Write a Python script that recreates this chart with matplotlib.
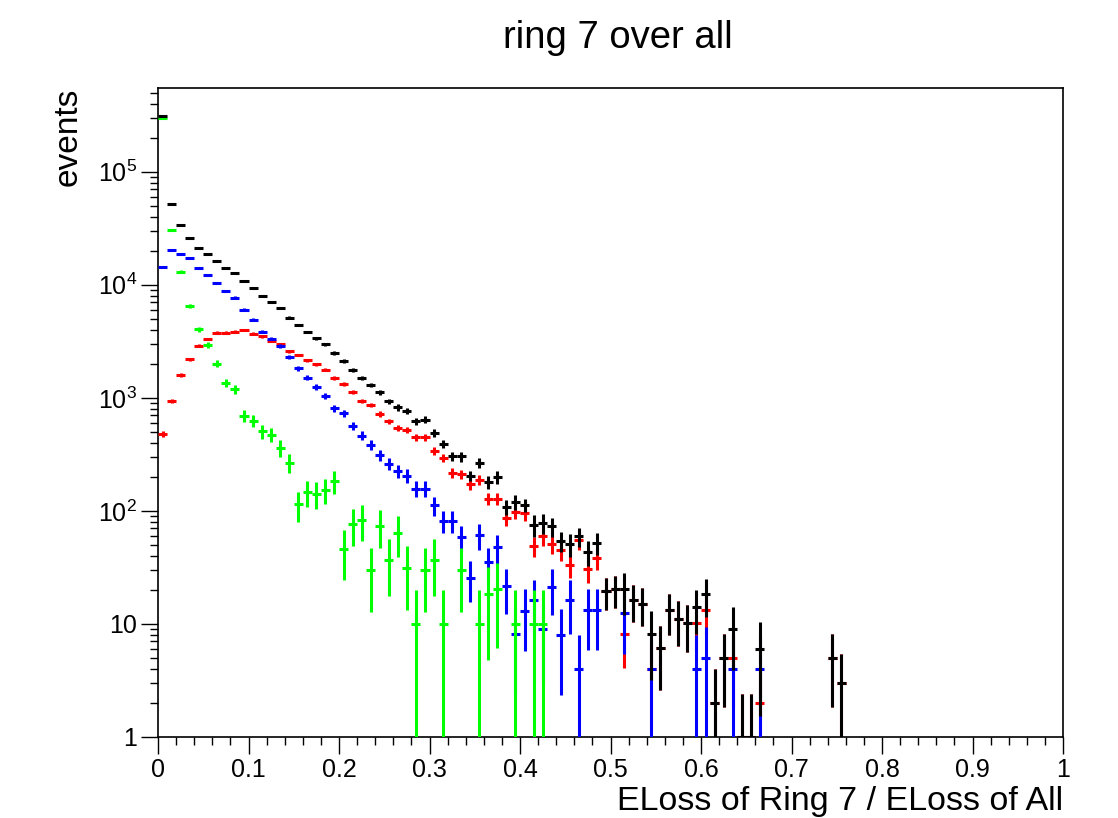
import numpy as np
import matplotlib
matplotlib.use("Agg")
import matplotlib.pyplot as plt
from matplotlib.ticker import FixedLocator, FuncFormatter, LogLocator, NullFormatter, MultipleLocator

plt.rcParams['font.family'] = ['Liberation Sans', 'DejaVu Sans']
plt.rcParams['mathtext.fontset'] = 'custom'
plt.rcParams['mathtext.rm'] = 'Liberation Sans'

# ---- data (bin width 0.01, bins starting at 0) ----
bin_width = 0.01
black = [3.13e5, 5.2e4, 3.35e4, 2.6e4, 2.12e4, 1.86e4, 1.63e4, 1.41e4, 1.28e4, 1.08e4,
         9300, 7900, 7050, 6240, 5130, 4400, 3830, 3370, 2980, 2500,
         2110, 1780, 1500, 1300, 1120, 930, 823, 770, 620, 641,
         489, 391, 304, 304, 205, 264, 179, 198, 108, 119,
         113, 75.4, 77.8, 72.8, 54, 50.5, 59.6, 43.2, 52, 19.4,
         20.2, 20.2, 16.2, 15.1, 8.1, 6.1, 13.2, 11.1, 10.1, 14.1,
         18.3, 2, 5, 9, 1, 1, 6, 0, 0, 0,
         0, 0, 0, 0, 5, 3]
red = [482, 937, 1600, 2200, 2900, 3300, 3780, 3780, 3860, 3990,
       3700, 3490, 3190, 2980, 2570, 2390, 2160, 1990, 1770, 1500,
       1320, 1130, 942, 863, 719, 619, 537, 520, 447, 447,
       341, 294, 217, 210, 173, 188, 128, 128, 86, 98,
       96, 48.7, 59.5, 51.3, 45.4, 33.5, 55.6, 30.8, 38.6, 19.4,
       20.2, 8.1, 16.2, 15.1, 4, 6.1, 13.2, 11.1, 10.1, 10.1,
       13.2, 2, 5, 5, 1, 1, 2, 0, 0, 0,
       0, 0, 0, 0, 5, 3]
blue = [1.44e4, 2.03e4, 1.87e4, 1.73e4, 1.42e4, 1.23e4, 1.03e4, 8800, 7700, 6030,
        4920, 3860, 3340, 2880, 2290, 1830, 1510, 1250, 1040, 813,
        728, 567, 463, 386, 313, 260, 224, 205, 157, 157,
        112, 82, 82, 58.6, 25.7, 60.7, 35.3, 47.8, 21.5, 8.1,
        13, 16.2, 9.1, 21.2, 8, 16.2, 4, 13.2, 13.2, 0,
        0, 12.5, 0, 0, 4, 0, 0, 0, 0, 4,
        5, 0, 0, 4, 0, 0, 4, 0, 0, 0,
        0, 0, 0, 0, 0, 0]
green = [2.98e5, 3.05e4, 1.31e4, 6500, 4050, 2940, 2010, 1360, 1200, 695,
         628, 505, 472, 360, 266, 114, 146, 142, 153, 184,
         46, 77, 83, 30, 74, 37, 64, 31, 10, 30,
         37, 10, 0, 30, 0, 10, 18.3, 20.4, 0, 10,
         0, 10, 10, 0, 0, 0, 0, 0, 0, 0,
         0, 0, 0, 0, 0, 0, 0, 0, 0, 0,
         0, 0, 0, 0, 0, 0, 0, 0, 0, 0,
         0, 0, 0, 0, 0, 0]
# approximate per-entry event weights (errors = weight * sqrt(N))
w_red, w_blue, w_green = 2.0, 4.0, 10.0

x_ticks = [0, 0.1, 0.2, 0.3, 0.4, 0.5, 0.6, 0.7, 0.8, 0.9, 1]
x_tick_labels = ['0', '0.1', '0.2', '0.3', '0.4', '0.5', '0.6', '0.7', '0.8', '0.9', '1']

title = 'ring 7 over all'
xlabel = 'ELoss of Ring 7 / ELoss of All'
ylabel = 'events'

# ---- figure ----
fig = plt.figure(figsize=(11.18, 8.18), dpi=100)
L, R, B, T = 158/1118, 1063/1118, 1 - 737/818, 1 - 88/818
ax = fig.add_axes([L, B, R - L, T - B])
ax.set_yscale('log', nonpositive='clip')

r = np.array(red, float); b = np.array(blue, float); g = np.array(green, float); k = np.array(black, float)
err_r = np.sqrt(w_red * r)
err_b = np.sqrt(w_blue * b)
err_g = np.sqrt(w_green * g)
err_k = np.sqrt(err_r**2 + err_b**2 + err_g**2)
centers = (np.arange(len(k)) + 0.5) * bin_width

def draw(vals, errs, color, z):
    m = vals > 0
    v = vals[m]; e = errs[m]
    lo = np.minimum(e, v * (1 - 1e-9))
    ax.errorbar(centers[m], v, xerr=bin_width / 2, yerr=[lo, e], fmt='none',
                ecolor=color, elinewidth=2.2, capsize=0, zorder=z)

draw(r, err_r, '#ff0000', 3)
draw(b, err_b, '#0000ff', 4)
draw(g, err_g, '#00ff00', 5)
draw(k, err_k, '#000000', 6)

ax.set_xlim(0, 1)
ax.set_ylim(1, 5.5e5)

ax.xaxis.set_major_locator(FixedLocator(x_ticks))
ax.set_xticklabels(x_tick_labels)
ax.xaxis.set_minor_locator(MultipleLocator(0.02))

def yfmt(v, pos):
    if abs(v - 1) < 1e-9:
        return '1'
    if abs(v - 10) < 1e-6:
        return '10'
    return r'$\mathregular{10^{%d}}$' % int(round(np.log10(v)))

ax.yaxis.set_major_locator(LogLocator(base=10, numticks=20))
ax.yaxis.set_major_formatter(FuncFormatter(yfmt))
ax.yaxis.set_minor_locator(LogLocator(base=10, subs=np.arange(2, 10), numticks=20))
ax.yaxis.set_minor_formatter(NullFormatter())

ax.tick_params(axis='both', which='major', direction='out', length=12, width=1.0,
               labelsize=18, pad=3)
ax.tick_params(axis='both', which='minor', direction='out', length=6, width=1.0)
ax.tick_params(top=False, right=False)
for s in ax.spines.values():
    s.set_linewidth(1.2)

fig.text(618/1118, 1 - 38/818, title, ha='center', va='center', fontsize=27.5)
fig.text(R, (818 - 810)/818, xlabel, ha='right', va='baseline', fontsize=24.5)
fig.text(68/1118, T, ylabel, ha='center', va='top', rotation=90, fontsize=24)

fig.savefig('out.png', dpi=100)
